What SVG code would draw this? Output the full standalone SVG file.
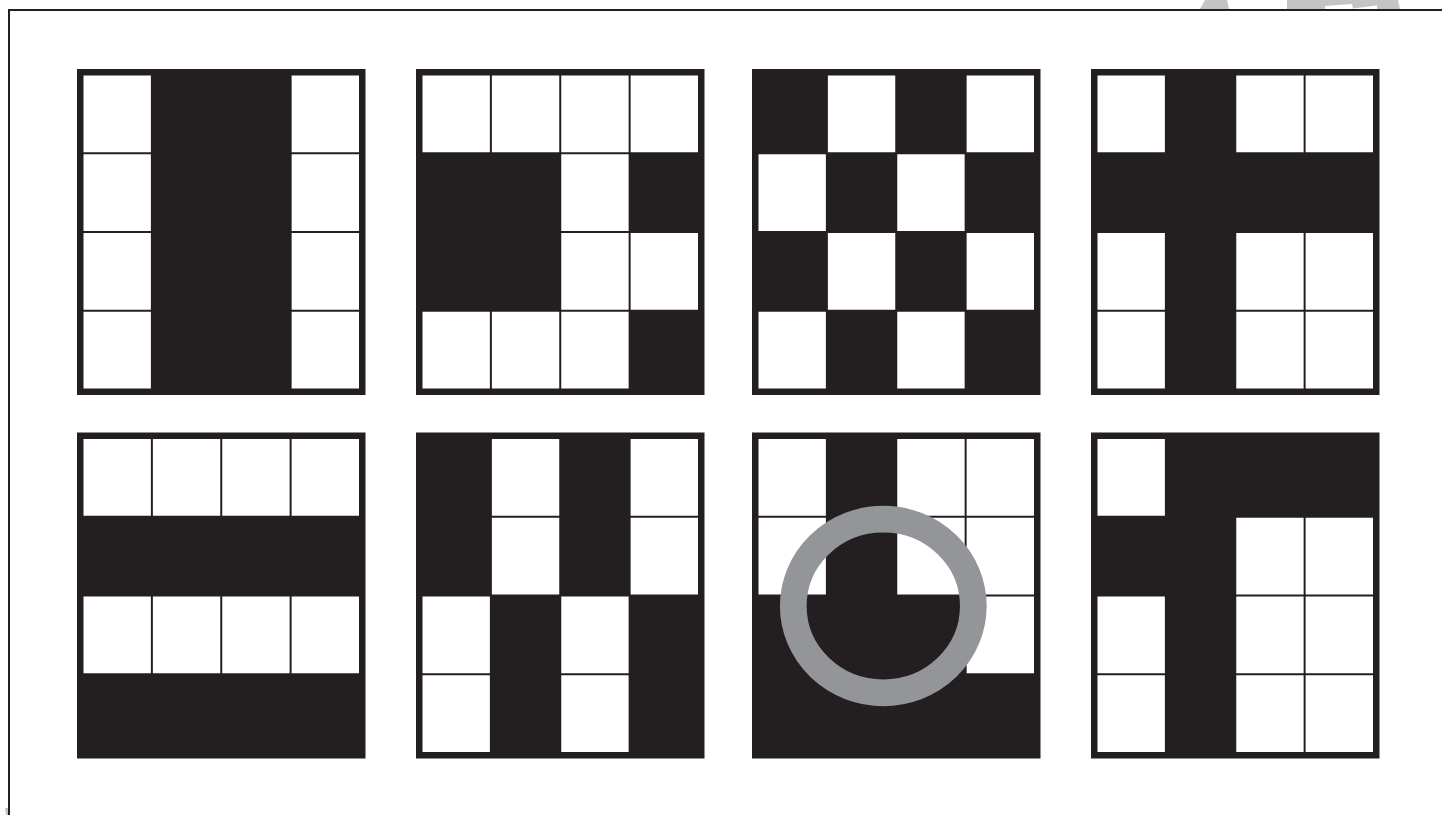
<svg xmlns="http://www.w3.org/2000/svg" width="1442" height="815" viewBox="0 0 1442 815">
<style>
.bg{fill:#231F20}
.w{fill:#FFFFFF}
.frame{stroke:#231F20;stroke-width:2;fill:none}
.mark{fill:#C4C4C4}
.ring{fill:none;stroke:#939598;stroke-width:26.7}
</style>
<rect x="0" y="0" width="1442" height="815" fill="#FFFFFF"/>
<g id="watermark">
<polygon class="mark" points="1205,0 1227,0 1229,9 1200,9"/>
<polygon class="mark" points="1287,0 1398,0 1400,9 1377,9 1377,5.5 1353,8.5 1352,4 1325,6 1325,9 1287,9"/>
<polygon class="mark" points="5,808 8,808 8,815 6,815"/>
</g>
<g id="frame">
<polyline class="frame" points="9,815 9,10 1442,10"/>
</g>
<g id="grid1" transform="translate(77,69)">
<rect class="bg" width="288.5" height="326"/>
<rect class="w" x="6.5" y="6.5" width="67.375" height="76.75"/>
<rect class="w" x="214.625" y="6.5" width="67.375" height="76.75"/>
<rect class="w" x="6.5" y="85.25" width="67.375" height="76.75"/>
<rect class="w" x="214.625" y="85.25" width="67.375" height="76.75"/>
<rect class="w" x="6.5" y="164" width="67.375" height="76.75"/>
<rect class="w" x="214.625" y="164" width="67.375" height="76.75"/>
<rect class="w" x="6.5" y="242.75" width="67.375" height="76.75"/>
<rect class="w" x="214.625" y="242.75" width="67.375" height="76.75"/>
</g>
<g id="grid2" transform="translate(416,69)">
<rect class="bg" width="288.5" height="326"/>
<rect class="w" x="6.5" y="6.5" width="67.375" height="76.75"/>
<rect class="w" x="75.875" y="6.5" width="67.375" height="76.75"/>
<rect class="w" x="145.25" y="6.5" width="67.375" height="76.75"/>
<rect class="w" x="214.625" y="6.5" width="67.375" height="76.75"/>
<rect class="w" x="145.25" y="85.25" width="67.375" height="76.75"/>
<rect class="w" x="145.25" y="164" width="67.375" height="76.75"/>
<rect class="w" x="214.625" y="164" width="67.375" height="76.75"/>
<rect class="w" x="6.5" y="242.75" width="67.375" height="76.75"/>
<rect class="w" x="75.875" y="242.75" width="67.375" height="76.75"/>
<rect class="w" x="145.25" y="242.75" width="67.375" height="76.75"/>
</g>
<g id="grid3" transform="translate(752,69)">
<rect class="bg" width="288.5" height="326"/>
<rect class="w" x="75.875" y="6.5" width="67.375" height="76.75"/>
<rect class="w" x="214.625" y="6.5" width="67.375" height="76.75"/>
<rect class="w" x="6.5" y="85.25" width="67.375" height="76.75"/>
<rect class="w" x="145.25" y="85.25" width="67.375" height="76.75"/>
<rect class="w" x="75.875" y="164" width="67.375" height="76.75"/>
<rect class="w" x="214.625" y="164" width="67.375" height="76.75"/>
<rect class="w" x="6.5" y="242.75" width="67.375" height="76.75"/>
<rect class="w" x="145.25" y="242.75" width="67.375" height="76.75"/>
</g>
<g id="grid4" transform="translate(1091,69)">
<rect class="bg" width="288.5" height="326"/>
<rect class="w" x="6.5" y="6.5" width="67.375" height="76.75"/>
<rect class="w" x="145.25" y="6.5" width="67.375" height="76.75"/>
<rect class="w" x="214.625" y="6.5" width="67.375" height="76.75"/>
<rect class="w" x="6.5" y="164" width="67.375" height="76.75"/>
<rect class="w" x="145.25" y="164" width="67.375" height="76.75"/>
<rect class="w" x="214.625" y="164" width="67.375" height="76.75"/>
<rect class="w" x="6.5" y="242.75" width="67.375" height="76.75"/>
<rect class="w" x="145.25" y="242.75" width="67.375" height="76.75"/>
<rect class="w" x="214.625" y="242.75" width="67.375" height="76.75"/>
</g>
<g id="grid5" transform="translate(77,432.5)">
<rect class="bg" width="288.5" height="326"/>
<rect class="w" x="6.5" y="6.5" width="67.375" height="76.75"/>
<rect class="w" x="75.875" y="6.5" width="67.375" height="76.75"/>
<rect class="w" x="145.25" y="6.5" width="67.375" height="76.75"/>
<rect class="w" x="214.625" y="6.5" width="67.375" height="76.75"/>
<rect class="w" x="6.5" y="164" width="67.375" height="76.75"/>
<rect class="w" x="75.875" y="164" width="67.375" height="76.75"/>
<rect class="w" x="145.25" y="164" width="67.375" height="76.75"/>
<rect class="w" x="214.625" y="164" width="67.375" height="76.75"/>
</g>
<g id="grid6" transform="translate(416,432.5)">
<rect class="bg" width="288.5" height="326"/>
<rect class="w" x="75.875" y="6.5" width="67.375" height="76.75"/>
<rect class="w" x="214.625" y="6.5" width="67.375" height="76.75"/>
<rect class="w" x="75.875" y="85.25" width="67.375" height="76.75"/>
<rect class="w" x="214.625" y="85.25" width="67.375" height="76.75"/>
<rect class="w" x="6.5" y="164" width="67.375" height="76.75"/>
<rect class="w" x="145.25" y="164" width="67.375" height="76.75"/>
<rect class="w" x="6.5" y="242.75" width="67.375" height="76.75"/>
<rect class="w" x="145.25" y="242.75" width="67.375" height="76.75"/>
</g>
<g id="grid7" transform="translate(752,432.5)">
<rect class="bg" width="288.5" height="326"/>
<rect class="w" x="6.5" y="6.5" width="67.375" height="76.75"/>
<rect class="w" x="145.25" y="6.5" width="67.375" height="76.75"/>
<rect class="w" x="214.625" y="6.5" width="67.375" height="76.75"/>
<rect class="w" x="6.5" y="85.25" width="67.375" height="76.75"/>
<rect class="w" x="145.25" y="85.25" width="67.375" height="76.75"/>
<rect class="w" x="214.625" y="85.25" width="67.375" height="76.75"/>
<rect class="w" x="214.625" y="164" width="67.375" height="76.75"/>
</g>
<g id="grid8" transform="translate(1091,432.5)">
<rect class="bg" width="288.5" height="326"/>
<rect class="w" x="6.5" y="6.5" width="67.375" height="76.75"/>
<rect class="w" x="145.25" y="85.25" width="67.375" height="76.75"/>
<rect class="w" x="214.625" y="85.25" width="67.375" height="76.75"/>
<rect class="w" x="6.5" y="164" width="67.375" height="76.75"/>
<rect class="w" x="145.25" y="164" width="67.375" height="76.75"/>
<rect class="w" x="214.625" y="164" width="67.375" height="76.75"/>
<rect class="w" x="6.5" y="242.75" width="67.375" height="76.75"/>
<rect class="w" x="145.25" y="242.75" width="67.375" height="76.75"/>
<rect class="w" x="214.625" y="242.75" width="67.375" height="76.75"/>
</g>
<g id="highlight">
<ellipse class="ring" cx="883.3" cy="606" rx="90" ry="86.8"/>
</g>
</svg>
